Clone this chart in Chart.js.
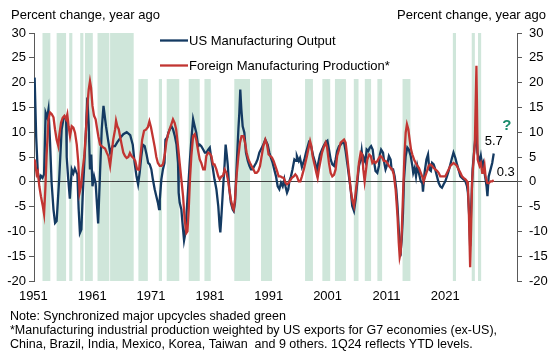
<!DOCTYPE html>
<html><head><meta charset="utf-8">
<script src="https://cdn.jsdelivr.net/npm/chart.js@4.4.1/dist/chart.umd.min.js"></script>
<style>html,body{margin:0;padding:0;background:#fff}#wrap{width:556px;height:356px;position:relative}</style>
</head><body><div id="wrap"><canvas id="c" width="556" height="356"></canvas></div>
<script>
// ---- DATA ----
const usYears = [1951.0,1951.25,1951.5,1951.75,1952.0,1952.25,1952.5,1952.75,1953.0,1953.2,1953.45,1953.7,1954.0,1954.25,1954.5,1954.9,1955.3,1955.57,1955.83,1956.0,1956.1,1956.35,1956.6,1956.9,1957.15,1957.4,1957.65,1957.8,1958.0,1958.2,1958.43,1958.64,1958.85,1959.17,1959.38,1959.6,1959.8,1960.0,1960.2,1960.45,1960.7,1961.1,1961.4,1961.67,1961.95,1962.35,1962.67,1963.0,1963.4,1963.78,1964.15,1964.6,1965.1,1965.64,1966.2,1966.6,1966.9,1967.2,1967.45,1967.7,1967.97,1968.2,1968.5,1968.8,1969.05,1969.3,1969.56,1969.8,1970.09,1970.35,1970.6,1970.78,1970.9,1971.15,1971.4,1971.65,1971.8,1972.1,1972.25,1972.5,1972.75,1973.0,1973.3,1973.56,1973.8,1973.9,1974.06,1974.33,1974.6,1974.76,1974.97,1975.13,1975.4,1975.66,1975.92,1976.2,1976.45,1976.7,1977.0,1977.25,1977.5,1977.8,1978.06,1978.3,1978.6,1978.85,1979.0,1979.36,1979.6,1979.9,1980.2,1980.42,1980.53,1980.7,1980.95,1981.22,1981.37,1981.55,1981.7,1981.96,1982.2,1982.5,1982.65,1982.86,1983.1,1983.4,1983.55,1983.7,1983.87,1984.08,1984.35,1984.6,1984.9,1985.15,1985.4,1985.65,1985.93,1986.2,1986.45,1986.73,1987.26,1987.68,1988.05,1988.32,1988.58,1988.85,1989.1,1989.38,1989.65,1989.91,1990.18,1990.44,1990.7,1990.9,1991.13,1991.34,1991.5,1991.76,1992.0,1992.3,1992.56,1992.7,1993.0,1993.2,1993.5,1993.9,1994.15,1994.6,1994.95,1995.3,1995.63,1995.9,1996.1,1996.37,1996.7,1996.95,1997.27,1997.55,1997.8,1998.07,1998.33,1998.6,1998.86,1999.1,1999.4,1999.66,1999.92,2000.2,2000.45,2000.7,2000.98,2001.25,2001.5,2001.78,2002.04,2002.3,2002.57,2002.84,2003.0,2003.2,2003.36,2003.6,2003.8,2004.05,2004.3,2004.5,2004.75,2004.96,2005.2,2005.49,2005.75,2005.9,2006.1,2006.4,2006.6,2006.8,2007.07,2007.33,2007.6,2007.76,2008.0,2008.25,2008.5,2008.7,2008.9,2009.1,2009.2,2009.37,2009.57,2009.73,2010.0,2010.26,2010.5,2010.8,2011.06,2011.2,2011.43,2011.64,2011.85,2012.1,2012.4,2012.65,2012.75,2013.0,2013.3,2013.55,2013.76,2014.0,2014.2,2014.45,2014.7,2014.98,2015.24,2015.5,2015.77,2016.04,2016.3,2016.56,2016.83,2017.1,2017.36,2017.6,2017.9,2018.16,2018.4,2018.7,2018.95,2019.2,2019.5,2019.75,2019.9,2020.1,2020.25,2020.4,2020.64,2020.96,2021.2,2021.4,2021.6,2021.8,2021.95,2022.17,2022.33,2022.54,2022.7,2022.86,2023.0,2023.2,2023.5,2023.76,2024.0];
const usValues = [21.0,9.0,2.0,0.3,1.2,0.8,1.5,13.9,13.0,14.6,8.0,-0.2,-5.6,-8.3,-7.9,0.5,10.6,12.6,13.1,13.1,5.0,0.5,-3.4,2.5,1.7,2.7,1.9,1.5,-5.5,-10.3,-9.6,-2.9,2.5,10.6,17.0,11.5,2.5,5.5,-0.9,1.1,-0.3,-8.4,1.8,10.6,15.3,11.2,8.5,5.9,7.2,7.2,8.0,8.8,9.6,10.0,9.4,7.5,3.8,1.1,-0.5,1.8,5.2,7.5,7.2,5.5,3.8,3.5,2.5,0.5,-1.5,-2.9,-4.2,-5.5,-3.6,0.5,2.5,3.8,8.5,9.0,9.8,10.6,11.2,10.6,9.2,7.5,3.8,-2.2,-4.2,-5.6,-9.6,-11.8,-10.3,-6.9,-1.5,3.8,8.5,12.6,11.2,9.9,7.2,7.5,7.2,6.5,5.9,5.9,6.5,6.9,5.5,2.5,0.5,-1.5,-4.9,-9.0,-10.2,-6.9,-1.5,3.8,7.5,5.5,3.5,-1.5,-4.2,-5.6,-5.9,-4.2,2.5,10.6,13.9,18.6,14.6,11.2,9.9,5.9,4.2,3.2,2.5,2.5,3.2,3.8,4.5,5.9,7.2,8.5,7.5,5.9,4.8,3.8,2.5,1.1,-0.9,-1.5,-0.2,-0.9,0.5,-1.0,-2.2,-1.5,0.1,1.1,2.5,4.5,4.2,5.2,4.2,4.8,3.0,4.5,5.9,7.9,7.2,5.2,3.8,2.0,3.8,5.5,6.5,7.2,8.0,8.3,6.5,4.5,3.5,3.2,4.5,6.2,7.2,7.5,7.9,7.9,6.2,3.8,1.1,-1.5,-4.9,-5.9,-3.6,-0.2,3.2,4.5,6.2,3.8,4.8,4.0,6.5,6.2,6.9,7.2,6.5,4.2,2.2,1.8,3.2,5.5,6.5,5.9,3.8,2.5,3.5,5.2,4.5,2.5,2.5,1.1,-1.5,-4.9,-9.6,-13.7,-14.0,-11.6,-6.3,0.5,5.2,6.9,6.5,5.2,3.2,1.8,2.8,1.1,3.2,1.8,0.1,-0.3,-2.0,1.8,4.5,5.5,2.5,2.2,3.8,3.5,2.5,1.1,-0.2,-0.9,-1.2,-0.5,0.1,1.1,2.2,3.5,4.8,5.9,4.8,3.5,2.5,1.1,0.8,0.5,0.1,-0.9,-2.2,-6.9,-13.0,-5.6,2.5,7.2,10.6,5.9,4.8,4.2,5.2,3.2,3.8,1.8,0.5,-0.9,-2.9,1.1,2.5,3.8,5.7];

const fgnYears = [1951.0,1951.17,1951.33,1951.5,1951.75,1952.0,1952.3,1952.5,1952.7,1952.9,1953.2,1953.45,1953.7,1954.0,1954.24,1954.5,1954.77,1954.93,1955.2,1955.46,1955.73,1956.0,1956.2,1956.4,1956.63,1956.9,1957.16,1957.42,1957.7,1957.95,1958.15,1958.38,1958.64,1958.9,1959.17,1959.38,1959.6,1959.8,1959.97,1960.2,1960.45,1960.7,1960.87,1961.13,1961.4,1961.67,1961.93,1962.2,1962.46,1962.72,1963.0,1963.25,1963.5,1963.8,1963.95,1964.15,1964.37,1964.58,1964.84,1965.1,1965.37,1965.64,1965.9,1966.15,1966.4,1966.7,1967.0,1967.3,1967.6,1967.85,1968.1,1968.4,1968.7,1969.0,1969.25,1969.5,1969.8,1970.1,1970.35,1970.6,1970.9,1971.15,1971.4,1971.7,1971.94,1972.2,1972.47,1972.74,1973.0,1973.26,1973.5,1973.8,1974.06,1974.33,1974.6,1974.86,1975.13,1975.3,1975.5,1975.7,1975.92,1976.2,1976.45,1976.7,1977.0,1977.25,1977.5,1977.8,1978.06,1978.3,1978.6,1978.85,1979.1,1979.36,1979.6,1979.9,1980.2,1980.42,1980.7,1980.95,1981.22,1981.5,1981.75,1981.96,1982.2,1982.5,1982.65,1982.86,1983.1,1983.4,1983.65,1983.9,1984.2,1984.45,1984.7,1985.0,1985.25,1985.5,1985.8,1986.06,1986.3,1986.57,1986.84,1987.1,1987.37,1987.68,1987.95,1988.2,1988.47,1988.73,1989.0,1989.27,1989.54,1989.8,1990.07,1990.33,1990.6,1990.9,1991.13,1991.4,1991.65,1991.9,1992.2,1992.45,1992.7,1993.0,1993.25,1993.5,1993.8,1994.04,1994.3,1994.58,1994.8,1995.0,1995.2,1995.5,1995.8,1996.0,1996.2,1996.5,1996.7,1996.95,1997.27,1997.5,1997.8,1998.07,1998.33,1998.6,1998.86,1999.1,1999.4,1999.66,1999.92,2000.2,2000.45,2000.7,2000.98,2001.25,2001.5,2001.78,2002.04,2002.3,2002.57,2002.84,2003.1,2003.26,2003.47,2003.7,2003.9,2004.2,2004.45,2004.7,2004.96,2005.2,2005.5,2005.75,2006.0,2006.3,2006.5,2006.8,2007.07,2007.33,2007.6,2007.86,2008.1,2008.4,2008.7,2008.9,2009.05,2009.2,2009.37,2009.57,2009.8,2010.0,2010.2,2010.42,2010.63,2010.85,2011.06,2011.33,2011.6,2011.85,2012.1,2012.4,2012.65,2012.85,2013.1,2013.4,2013.65,2013.9,2014.2,2014.45,2014.7,2014.98,2015.24,2015.5,2015.77,2016.04,2016.3,2016.56,2016.83,2017.1,2017.36,2017.6,2017.9,2018.16,2018.4,2018.7,2018.95,2019.2,2019.5,2019.75,2019.9,2020.05,2020.25,2020.4,2020.55,2020.8,2021.0,2021.25,2021.45,2021.6,2021.75,2021.95,2022.17,2022.35,2022.54,2022.7,2022.96,2023.2,2023.5,2023.76,2024.0];
const fgnValues = [4.5,3.0,1.5,2.0,-0.9,-2.9,-4.9,-6.5,-1.5,5.2,12.6,14.0,13.7,13.0,10.6,8.5,7.2,9.5,11.9,12.9,13.3,12.6,13.6,11.2,9.2,11.2,10.9,9.9,7.5,3.8,-2.2,-0.9,2.5,5.2,10.6,15.3,18.6,20.3,19.0,15.3,13.3,12.6,11.2,9.2,7.5,7.2,6.9,6.7,5.9,5.2,3.2,5.9,8.5,10.6,12.3,11.2,10.6,9.2,7.5,5.9,5.2,4.8,5.0,5.8,5.2,4.8,4.2,2.5,2.4,5.5,8.5,10.3,10.5,11.0,12.2,11.0,9.0,7.0,5.0,3.8,3.2,3.2,3.5,5.5,8.0,9.5,10.6,11.6,12.6,11.9,10.6,7.2,3.8,0.5,-2.9,-7.6,-10.3,-10.0,-5.6,0.5,5.2,9.2,9.6,8.5,6.2,4.5,3.8,2.5,2.5,5.2,5.9,5.7,5.2,3.5,3.5,2.5,1.1,0.5,1.1,1.2,2.5,1.8,0.3,-1.5,-3.6,-5.2,-5.6,-3.6,1.1,5.2,7.9,9.2,9.2,7.9,5.9,4.5,3.8,3.2,2.5,1.8,1.8,2.2,3.2,5.2,7.2,8.5,7.5,5.5,5.2,4.9,4.2,3.2,2.2,1.1,1.1,0.9,0.8,-0.2,-0.5,-0.2,0.3,0.8,1.1,1.5,1.1,0.1,0.1,1.1,2.5,3.8,5.2,6.9,8.2,7.2,5.2,3.5,1.8,0.8,2.5,4.5,5.9,6.9,7.9,7.0,3.8,1.8,1.1,1.4,2.5,5.2,6.5,7.9,8.2,8.5,7.9,5.2,1.8,-1.5,-3.6,-4.9,-2.2,0.5,3.8,5.9,5.5,2.5,0.1,2.5,4.5,5.5,5.2,3.8,4.2,3.8,4.2,4.8,5.2,4.8,4.2,4.2,3.8,3.2,2.8,2.5,1.5,-1.5,-6.9,-12.3,-15.2,-14.3,-10.3,-2.9,5.2,9.9,11.6,10.6,8.5,6.5,5.5,4.5,3.8,3.2,2.8,1.8,1.0,0.1,1.1,2.2,3.2,3.5,3.2,2.8,2.5,2.2,1.8,1.1,1.1,1.1,1.1,1.8,2.5,3.2,3.5,3.8,3.5,3.2,2.5,1.8,1.1,0.8,0.5,0.1,-0.9,-6.3,-17.2,-9.6,-0.2,4.5,7.9,23.4,4.5,3.8,3.2,3.8,1.8,1.8,3.2,1.1,-0.2,-0.3,0.1,0.1,0.3];

// Synchronized upcycles (start, end in years)
const bandStarts = [1952.25,1954.5,1956.5,1958.25,1959.0,1961.0,1963.0,1967.5,1970.75,1972.0,1975.5,1978.0,1982.75,1987.0,1994.0,1996.75,1998.75,2001.75,2003.5,2005.5,2009.5,2017.5,2020.5,2021.5];
const bandEnds   = [1953.5,1956.0,1957.0,1958.75,1960.25,1962.88,1966.75,1969.0,1971.25,1974.0,1977.25,1979.0,1985.25,1988.75,1995.25,1998.0,2000.5,2002.5,2004.5,2006.25,2010.75,2018.0,2021.0,2022.0];

const xTickLabels = ['1951','1961','1971','1981','1991','2001','2011','2021'];
const xLabelFirst = 1950.8, xLabelStep = 9.357;
const yTicks = {min: -20, max: 30, step: 5};

const seriesNames = ['US Manufacturing Output', 'Foreign Manufacturing Production*'];
const axisTitle = 'Percent change, year ago';
const notes = ['Note: Synchronized major upcycles shaded green',
  '*Manufacturing industrial production weighted by US exports for G7 economies (ex-US),',
  'China, Brazil, India, Mexico, Korea, Taiwan  and 9 others. 1Q24 reflects YTD levels.'];

// ---- STYLE ----
const NAVY = '#143a62', RED = '#c23532', BAND = '#cfe6da', AXIS = '#595959';
const FONT = '"Liberation Sans", Arial, sans-serif';

const decor = {
  id: 'decor',
  beforeDraw(chart) {
    const {ctx, chartArea: a, scales: {x}} = chart;
    ctx.save();
    ctx.fillStyle = BAND;
    bandStarts.forEach((s, i) => {
      const x0 = x.getPixelForValue(s), x1 = x.getPixelForValue(bandEnds[i]);
      ctx.fillRect(x0, a.top, x1 - x0, a.bottom - a.top);
    });
    // legend background
    ctx.fillStyle = '#fff';
    ctx.fillRect(135, a.top, 285, 79 - a.top);
    ctx.restore();
  },
  afterDatasetsDraw(chart) {
    const {ctx, scales: {x, y}} = chart;
    ctx.save();
    ctx.fillStyle = '#000';
    ctx.font = '13px ' + FONT;
    ctx.textBaseline = 'alphabetic';
    ctx.textAlign = 'left';
    ctx.fillText(axisTitle, 11, 18.5);
    ctx.textAlign = 'right';
    ctx.fillText(axisTitle, 546, 18.5);
    // legend
    const leg = [[NAVY, 40.5], [RED, 65.5]];
    leg.forEach(([c, ly], i) => {
      ctx.strokeStyle = c; ctx.lineWidth = 2.3;
      ctx.beginPath(); ctx.moveTo(160, ly); ctx.lineTo(188, ly); ctx.stroke();
      ctx.textAlign = 'left'; ctx.textBaseline = 'middle';
      ctx.fillText(seriesNames[i], 189, ly + 0.5);
    });
    // end labels
    const lx = x.getPixelForValue(usYears[usYears.length - 1]);
    const usY = y.getPixelForValue(usValues[usValues.length - 1]);
    const fY = y.getPixelForValue(fgnValues[fgnValues.length - 1]);
    ctx.textBaseline = 'middle';
    ctx.textAlign = 'center';
    ctx.fillText(usValues[usValues.length - 1].toFixed(1), lx, usY - 12);
    ctx.textAlign = 'left';
    ctx.fillText(fgnValues[fgnValues.length - 1].toFixed(1), lx + 3, fY - 8);
    ctx.fillStyle = '#1a8c6c';
    ctx.font = 'bold 15px ' + FONT;
    ctx.textAlign = 'center';
    ctx.fillText('?', lx + 13, usY - 28);
    // notes
    ctx.fillStyle = '#000';
    ctx.font = '12.5px ' + FONT;
    ctx.textAlign = 'left';
    ctx.textBaseline = 'alphabetic';
    notes.forEach((t, i) => ctx.fillText(t, 10, 319.5 + i * 14));
    ctx.restore();
  }
};

const mk = (xs, vs) => xs.map((v, i) => ({x: v, y: vs[i]}));

new Chart(document.getElementById('c'), {
  type: 'line',
  data: {
    datasets: [
      {label: seriesNames[1], data: mk(fgnYears, fgnValues), borderColor: RED, borderWidth: 2.3, pointRadius: 0, tension: 0, yAxisID: 'y', order: 0},
      {label: seriesNames[0], data: mk(usYears, usValues), borderColor: NAVY, borderWidth: 2.3, pointRadius: 0, tension: 0, yAxisID: 'y', order: 1}
    ]
  },
  options: {
    responsive: false, animation: false, devicePixelRatio: 1,
    layout: {padding: {left: 0, right: 0, top: 33, bottom: 45}},
    plugins: {legend: {display: false}, tooltip: {enabled: false}},
    scales: {
      x: {
        type: 'linear', min: 1950.9, max: 2027.7,
        grid: {display: false, drawTicks: false, tickLength: 0}, border: {display: false},
        afterBuildTicks: ax => { ax.ticks = xTickLabels.map((l, i) => ({value: xLabelFirst + i * xLabelStep})); },
        afterFit: ax => { ax.height = 30; },
        ticks: {autoSkip: false, maxRotation: 0, padding: 8, color: '#000', font: {size: 13, family: FONT},
          callback: (v, i) => xTickLabels[i]}
      },
      y: {
        position: 'left', min: yTicks.min, max: yTicks.max,
        afterFit: ax => { ax.width = 34; },
        ticks: {stepSize: yTicks.step, padding: 3, color: '#000', font: {size: 13, family: FONT}},
        grid: {drawOnChartArea: true, color: c => (c.tick && c.tick.value === 0) ? '#404040' : 'rgba(0,0,0,0)', tickColor: AXIS, tickLength: 5, lineWidth: 1},
        border: {display: true, color: AXIS, width: 1}
      },
      y1: {
        position: 'right', min: yTicks.min, max: yTicks.max,
        afterFit: ax => { ax.width = 39; },
        ticks: {stepSize: yTicks.step, padding: 7, color: '#000', font: {size: 13, family: FONT}},
        grid: {drawOnChartArea: false, tickColor: AXIS, tickLength: 5},
        border: {display: true, color: AXIS, width: 1}
      }
    }
  },
  plugins: [decor]
});
</script></body></html>
